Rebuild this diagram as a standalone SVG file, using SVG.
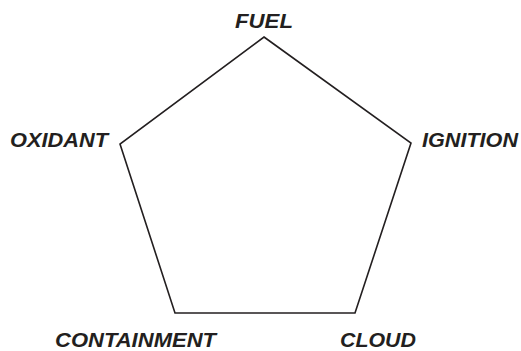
<svg xmlns="http://www.w3.org/2000/svg" width="521" height="351" viewBox="0 0 521 351">
<style>
.lbl{font-family:"Liberation Sans",Arial,sans-serif;font-weight:bold;font-style:italic;font-size:21px;fill:#231f20}
.edge{fill:none;stroke:#231f20;stroke-width:1.6;stroke-linejoin:miter}
</style>
<rect width="521" height="351" fill="#ffffff"/>
<g id="connectors">
<polygon class="edge" points="264,37 411,143 355,313 175,313 120,144"/>
</g>
<g id="fuel"><text class="lbl" x="235" y="28" textLength="58" lengthAdjust="spacingAndGlyphs">FUEL</text></g>
<g id="oxidant"><text class="lbl" x="10" y="147" textLength="98" lengthAdjust="spacingAndGlyphs">OXIDANT</text></g>
<g id="ignition"><text class="lbl" x="422" y="147" textLength="96" lengthAdjust="spacingAndGlyphs">IGNITION</text></g>
<g id="containment"><text class="lbl" x="55" y="347" textLength="161" lengthAdjust="spacingAndGlyphs">CONTAINMENT</text></g>
<g id="cloud"><text class="lbl" x="340" y="347" textLength="76" lengthAdjust="spacingAndGlyphs">CLOUD</text></g>
</svg>
